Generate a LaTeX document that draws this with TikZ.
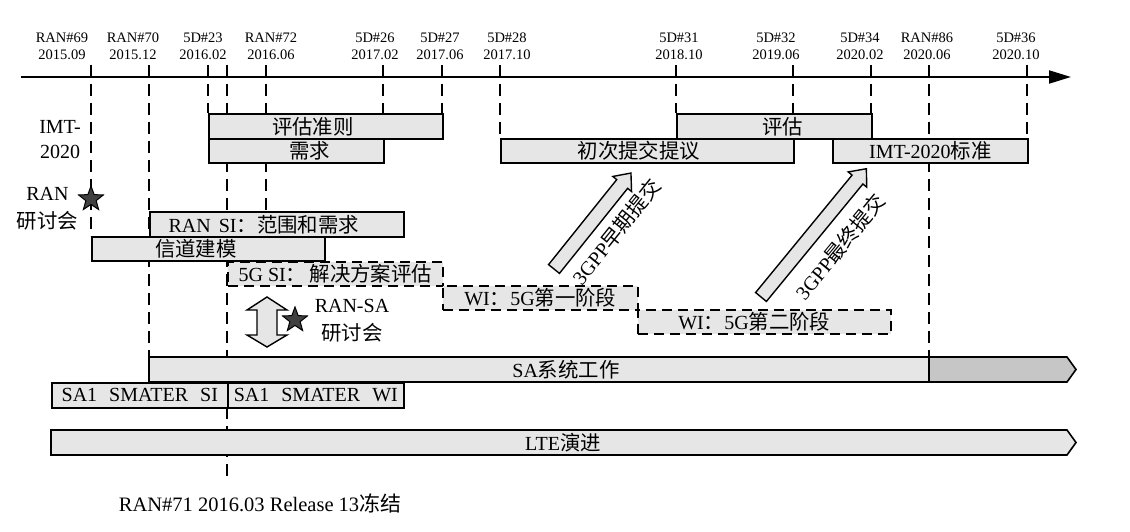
\documentclass[tikz,border=0pt]{standalone}
\usepackage{fontspec}
\setmainfont{Liberation Serif}
\newfontfamily\zh{Noto Sans CJK SC}[Scale=1.02]
\usetikzlibrary{arrows.meta,shapes.geometric}
\pgfdeclarelayer{back}
\pgfdeclarelayer{bg}
\pgfsetlayers{back,bg,main}
\definecolor{boxgray}{HTML}{E6E6E6}
\definecolor{tailgray}{HTML}{C6C6C6}
\definecolor{stargray}{HTML}{404040}
\begin{document}
\begin{tikzpicture}[x=1pt,y=-1pt,
  box/.style={draw, line width=1.6pt, fill=boxgray, inner sep=0pt, anchor=north west, font=\fontsize{20}{22}\selectfont},
  dbox/.style={box, dash pattern=on 10pt off 6pt},
  txt/.style={inner sep=0pt, font=\fontsize{20}{22}\selectfont},
  toplbl/.style={align=center, inner sep=0pt, font=\fontsize{14.5}{17}\selectfont},
  sidelbl/.style={align=center, inner sep=0pt},
  guide/.style={line width=1.8pt, dash pattern=on 12pt off 7pt},
  mystar/.style={star, star points=5, star point ratio=2.4, draw=black, line width=1pt, fill=stargray, minimum size=26pt, inner sep=0pt},
  blk/.style={draw, line width=1.4pt, fill=boxgray, line join=miter}]

\useasboundingbox (0,0) rectangle (1130,532);
\begin{pgfonlayer}{back}
  \fill[white] (0,0) rectangle (1130,532);
\end{pgfonlayer}

% time axis
\coordinate (axL) at (21,77);
\coordinate (axR) at (1071,77);
\draw[line width=2pt, -{Triangle[length=22pt,width=13pt]}] (axL) -- (axR);

% top labels
\node[toplbl] (l69) at (62,46.5)   {RAN\#69\\2015.09};
\node[toplbl] (l70) at (133,46.5)  {RAN\#70\\2015.12};
\node[toplbl] (l23) at (203,46.5)  {5D\#23\\2016.02};
\node[toplbl] (l72) at (271,46.5)  {RAN\#72\\2016.06};
\node[toplbl] (l26) at (375,46.5)  {5D\#26\\2017.02};
\node[toplbl] (l27) at (440,46.5)  {5D\#27\\2017.06};
\node[toplbl] (l28) at (507,46.5)  {5D\#28\\2017.10};
\node[toplbl] (l31) at (679,46.5)  {5D\#31\\2018.10};
\node[toplbl] (l32) at (776,46.5)  {5D\#32\\2019.06};
\node[toplbl] (l34) at (860,46.5)  {5D\#34\\2020.02};
\node[toplbl] (l86) at (927,46.5)  {RAN\#86\\2020.06};
\node[toplbl] (l36) at (1016,46.5) {5D\#36\\2020.10};

% tick coordinates
\coordinate (g69) at (91,65);
\coordinate (g70) at (149,65);
\coordinate (g23) at (208,65);
\coordinate (g71) at (227,65);
\coordinate (g72) at (266,65);
\coordinate (g26) at (383,65);
\coordinate (g27) at (442,65);
\coordinate (g28) at (500,65);
\coordinate (g31) at (676,65);
\coordinate (g32) at (793,65);
\coordinate (g34) at (871,65);
\coordinate (g86) at (929,65);
\coordinate (g36) at (1027,65);
\coordinate (r71end) at (227,480);

% IMT-2020 boxes
\node[box, minimum width=234pt, minimum height=25pt] (crit) at (208,113) {};
\node[txt] (critT) at ([xshift=-13pt]crit.center) {\zh 评估准则};
\node[box, minimum width=175pt, minimum height=24pt] (req) at (208,138) {};
\node[txt] (reqT) at ([xshift=13.5pt]req.center) {\zh 需求};
\node[box, minimum width=195pt, minimum height=25pt] (evalb) at (676,113) {};
\node[txt] (evalT) at ([xshift=8.5pt]evalb.center) {\zh 评估};
\node[box, minimum width=293pt, minimum height=24pt] (init) at (500,138) {};
\node[txt] (initT) at ([xshift=-8.5pt]init.center) {\zh 初次提交提议};
\node[box, minimum width=195pt, minimum height=24pt] (imt) at (832,138) {IMT-2020{\zh 标准}};

% RAN boxes
\node[box, minimum width=254pt, minimum height=25pt] (ransi) at (149,211) {};
\node[txt] (ransiT) at ([xshift=-13pt]ransi.center) {RAN\hspace{0.4em}SI{\zh ：范围和需求}};
\node[box, minimum width=233pt, minimum height=24pt] (chan) at (91,236) {};
\node[txt] (chanT) at ([xshift=-12.5pt]chan.center) {\zh 信道建模};
\node[dbox, minimum width=215pt, minimum height=24pt] (si5g) at (227,261) {5G SI{\zh ：\,解决方案评估}};
\node[dbox, minimum width=195pt, minimum height=24pt] (wi1) at (442,285) {WI{\zh ：}5G{\zh 第一阶段}};
\node[dbox, minimum width=253pt, minimum height=24pt] (wi2) at (637,309) {};
\node[txt] (wi2T) at ([xshift=-10pt]wi2.center) {WI{\zh ：}5G{\zh 第二阶段}};

% SA system work (pointed bar)
\coordinate (saTL) at (149,357);
\fill[tailgray] (929,357) -- (1067,357) -- (1076,369.5) -- (1067,382) -- (929,382) -- cycle;
\fill[boxgray] (149,357) rectangle (929,382);
\draw[line width=1.6pt, line join=miter] (saTL) -- (1067,357) -- (1076,369.5) -- (1067,382) -- (149,382) -- cycle;
\draw[line width=1.2pt] (929,357) -- (929,382);
\node[txt] (saT) at (566,370) {SA{\zh 系统工作}};

% SA1 boxes
\node[box, minimum width=176pt, minimum height=25pt] (sa1si) at (51,382) {SA1\hspace{0.6em}SMATER\hspace{0.6em}SI};
\node[box, minimum width=176pt, minimum height=25pt] (sa1wi) at (227,382) {SA1\hspace{0.6em}SMATER\hspace{0.6em}WI};

% LTE evolution bar
\fill[boxgray] (51,430) -- (1067,430) -- (1076,442.5) -- (1067,455) -- (51,455) -- cycle;
\draw[line width=1.6pt, line join=miter] (51,430) -- (1067,430) -- (1076,442.5) -- (1067,455) -- (51,455) -- cycle;
\node[txt] (lteT) at (563,442.5) {LTE{\zh 演进}};

% side labels
\node[sidelbl, font=\fontsize{20}{25}\selectfont] (imtlbl) at (60,139.5) {IMT-\\2020};
\node[sidelbl, font=\fontsize{20}{28}\selectfont] (ranws) at (47.5,209) {RAN\\{\zh 研讨会}};
\node[mystar] (star1) at (91,199) {};
\node[sidelbl, font=\fontsize{20}{28}\selectfont] (ransaws) at (352,321) {RAN-SA\\{\zh 研讨会}};
\node[mystar] (star2) at (295,320) {};

% double arrow
\draw[blk] (267,297) -- (287,310) -- (277,310) -- (277,335) -- (287,335) -- (267,347)
  -- (247,335) -- (257,335) -- (257,310) -- (247,310) -- cycle;

% 3GPP early submission arrow
\begin{scope}[shift={(554,269)}, rotate=51.27]
  \draw[blk] (0,-7) -- (109,-7) -- (109,-12) -- (123,0) -- (109,12) -- (109,7) -- (0,7) -- cycle;
  \node[txt, rotate=51.27] (early) at (68,25) {3GPP{\zh 早期提交}};
\end{scope}

% 3GPP final submission arrow
\begin{scope}[shift={(761,297)}, rotate=50.6]
  \draw[blk] (0,-7) -- (152,-7) -- (152,-12) -- (166,0) -- (152,12) -- (152,7) -- (0,7) -- cycle;
  \node[txt, rotate=50.6] (final) at (89,29) {3GPP{\zh 最终提交}};
\end{scope}

% bottom note
\node[txt, font=\fontsize{20.5}{22}\selectfont] (freeze) at (260,503) {RAN\#71 2016.03 Release 13{\zh 冻结}};

% dashed guide lines (behind boxes)
\begin{pgfonlayer}{bg}
  \draw[guide] (g69) -- (g69 |- chan.north);
  \draw[guide] (g70) -- (g70 |- saTL);
  \draw[guide] (g23) -- (g23 |- crit.north);
  \draw[guide] (g71) -- (r71end);
  \draw[guide] (g72) -- (g72 |- ransi.north);
  \draw[guide] (g26) -- (g26 |- req.north);
  \draw[guide] (g27) -- (g27 |- crit.north);
  \draw[guide] (g28) -- (g28 |- init.north);
  \draw[guide] (g31) -- (g31 |- evalb.north);
  \draw[guide] (g32) -- (g32 |- init.north);
  \draw[guide] (g34) -- (g34 |- evalb.north);
  \draw[guide] (g86) -- (g86 |- saTL);
  \draw[guide] (g36) -- (g36 |- imt.north);
\end{pgfonlayer}
\end{tikzpicture}
\end{document}
